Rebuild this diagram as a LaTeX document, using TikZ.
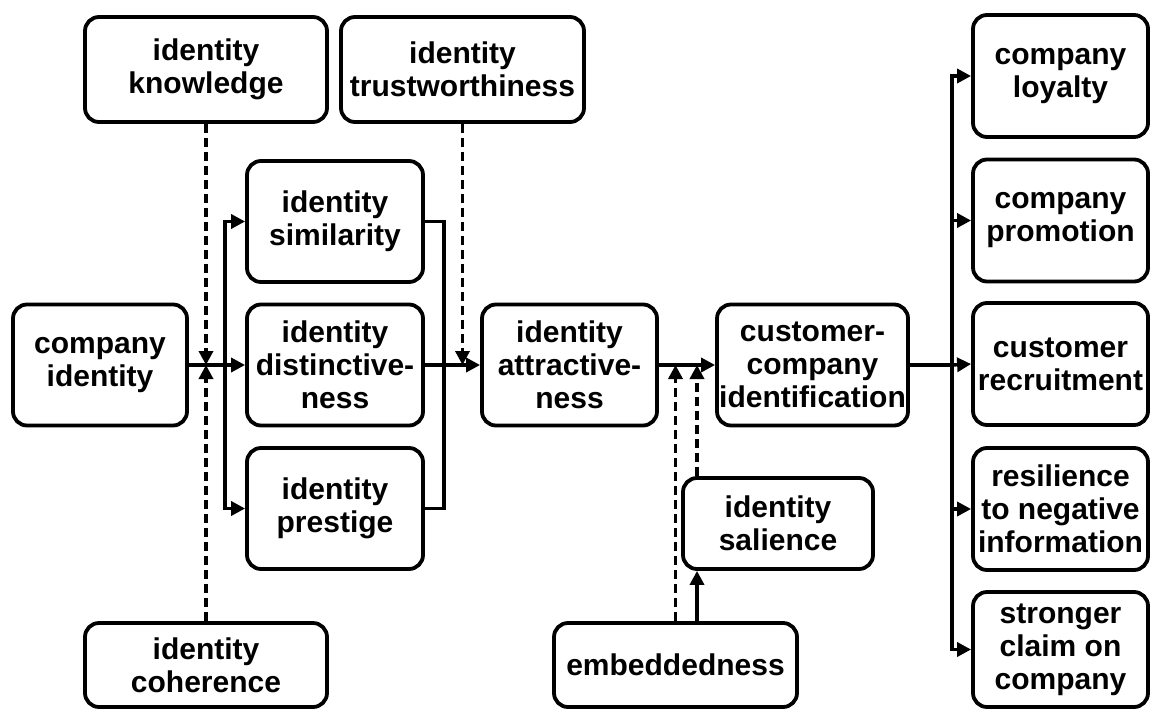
\documentclass[tikz,border=0pt]{standalone}
\usepackage{fontspec}
\setmainfont{Liberation Sans}
\usetikzlibrary{arrows.meta}
\begin{document}
\begin{tikzpicture}[x=1pt,y=-1pt,
  box/.style={draw, line width=3.8pt, rounded corners=14pt, align=center,
    font=\bfseries\fontsize{30}{33}\selectfont, inner sep=0pt},
  midbox/.style={box, minimum width=175, minimum height=121},
  link/.style={line width=3.4pt},
  conn/.style={link, -{Triangle[length=14pt,width=14pt]}},
  dconn/.style={conn, dash pattern=on 9pt off 5pt}
]
\useasboundingbox (0,0) rectangle (1150,709);

% moderators above and below
\node[box, minimum width=242, minimum height=105] (know)  at (206,69.5)   {identity\\knowledge};
\node[box, minimum width=243, minimum height=105] (trust) at (462.5,69.5) {identity\\trustworthiness};
\node[box, minimum width=242, minimum height=84]  (coh)   at (206,665)    {identity\\coherence};
\node[box, minimum width=243, minimum height=84]  (emb)   at (675.5,665)  {embeddedness};
\node[box, minimum width=190, minimum height=91]  (sal)   at (778,523.5)  {identity\\salience};

% main chain
\node[midbox, minimum width=174] (comp) at (100,365)   {company\\identity};
\node[midbox, minimum width=176] (sim)  at (335,221.5) {identity\\similarity};
\node[midbox, minimum width=176] (dist) at (335,365)   {identity\\distinctive-\\ness};
\node[midbox, minimum width=176] (pres) at (335,508.5) {identity\\prestige};
\node[midbox] (attr) at (569.5,365) {identity\\attractive-\\ness};
\node[midbox, minimum width=191] (cust) at (812.5,365) {customer-\\company\\identification};

% outcomes
\node[midbox, minimum height=122] (loy)    at (1060.5,76)    {company\\loyalty};
\node[midbox, minimum height=122] (prom)   at (1060.5,220.5) {company\\promotion};
\node[midbox, minimum height=122] (recr)   at (1060.5,364)   {customer\\recruitment};
\node[midbox, minimum height=122] (resil)  at (1060.5,509)   {resilience\\to negative\\information};
\node[midbox, minimum height=115] (strong) at (1060.5,649.5) {stronger\\claim on\\company};

% branching points
\coordinate (split) at (225,365);
\coordinate (merge) at (444,365);
\coordinate (salx)  at (697,0);
\coordinate (fan)   at (952,365);

% company identity to the three identity dimensions
\draw[conn] (comp.east) -- (dist.west);
\draw[conn] (split) |- (sim.west);
\draw[conn] (split) |- (pres.west);

% dimensions to attractiveness
\draw[link] (sim.east) -| (merge);
\draw[link] (pres.east) -| (merge);
\draw[conn] (dist.east) -- (attr.west);

% attractiveness to identification
\draw[conn] (attr.east) -- (cust.west);

% moderating effects
\draw[dconn] (know.south) -- (know.south |- comp.east);
\draw[dconn] (coh.north) -- (coh.north |- comp.east);
\draw[dconn] (trust.south) -- (trust.south |- attr.west);
\draw[dconn] (emb.north) -- (emb.north |- attr.east);
\draw[dconn] (salx |- sal.north) -- (salx |- cust.west);
\draw[conn] (salx |- emb.north) -- (salx |- sal.south);

% identification to outcomes
\draw[link] (cust.east) -- (fan);
\draw[conn] (fan) |- (loy.west);
\draw[conn] (fan) |- (prom.west);
\draw[conn] (fan) -- (recr.west);
\draw[conn] (fan) |- (resil.west);
\draw[conn] (fan) |- (strong.west);
\end{tikzpicture}
\end{document}
